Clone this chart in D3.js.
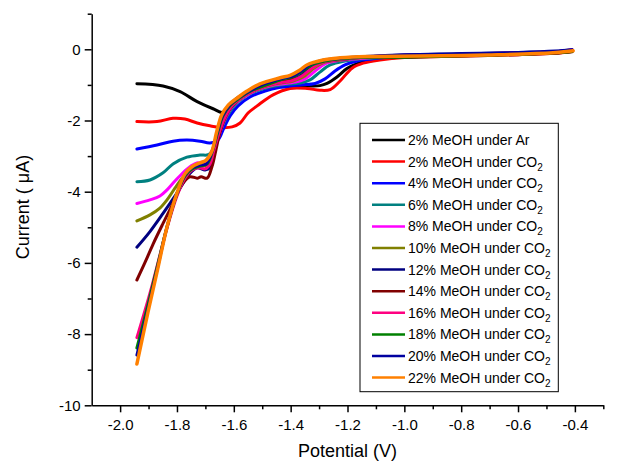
<!DOCTYPE html>
<html>
<head>
<meta charset="utf-8">
<script src="https://cdn.jsdelivr.net/npm/d3@7"></script>
<style>
  body { margin: 0; background: #fff; }
  text { font-family: "Liberation Sans", Arial, sans-serif; fill: #000; }
</style>
</head>
<body>
<div class="chart"></div>
<script>
// Series: [potential (V), current (uA)]
const ar2 = [[-1.941,-0.97],[-1.849,-1.03],[-1.789,-1.19],[-1.729,-1.47],[-1.673,-1.67],[-1.638,-1.77],[-1.613,-1.54],[-1.578,-1.31],[-1.525,-1.14],[-1.473,-1.07],[-1.402,-1.04],[-1.332,-1.03],[-1.297,-1.02],[-1.272,-0.96],[-1.237,-0.78],[-1.202,-0.54],[-1.166,-0.40],[-1.121,-0.30],[-1.0,-0.22],[-0.8,-0.18],[-0.6,-0.14],[-0.47,-0.10],[-0.41,-0.05]];
const co2_2 = [[-1.941,-2.03],[-1.870,-2.03],[-1.814,-1.94],[-1.772,-1.96],[-1.729,-2.07],[-1.684,-2.15],[-1.642,-2.20],[-1.606,-2.18],[-1.578,-2.07],[-1.550,-1.79],[-1.518,-1.59],[-1.462,-1.28],[-1.402,-1.10],[-1.342,-1.10],[-1.297,-1.15],[-1.261,-1.13],[-1.226,-0.89],[-1.184,-0.53],[-1.145,-0.39],[-1.086,-0.30],[-1.0,-0.23],[-0.8,-0.19],[-0.6,-0.15],[-0.47,-0.11],[-0.41,-0.06]];
const co2_4 = [[-1.941,-2.80],[-1.870,-2.69],[-1.814,-2.58],[-1.765,-2.55],[-1.719,-2.58],[-1.684,-2.63],[-1.656,-2.55],[-1.635,-2.21],[-1.613,-1.87],[-1.585,-1.59],[-1.543,-1.34],[-1.490,-1.17],[-1.437,-1.07],[-1.367,-1.00],[-1.314,-0.96],[-1.279,-0.83],[-1.244,-0.61],[-1.209,-0.44],[-1.166,-0.33],[-1.114,-0.27],[-1.0,-0.18],[-0.8,-0.15],[-0.6,-0.11],[-0.47,-0.08],[-0.41,-0.03]];
const co2_6 = [[-1.941,-3.72],[-1.895,-3.67],[-1.849,-3.47],[-1.814,-3.22],[-1.765,-3.03],[-1.719,-2.97],[-1.690,-2.96],[-1.670,-2.77],[-1.649,-2.32],[-1.627,-1.93],[-1.599,-1.59],[-1.557,-1.31],[-1.501,-1.12],[-1.437,-1.00],[-1.367,-0.95],[-1.332,-0.86],[-1.297,-0.64],[-1.261,-0.44],[-1.209,-0.33],[-1.138,-0.26],[-1.0,-0.21],[-0.8,-0.17],[-0.6,-0.13],[-0.47,-0.09],[-0.41,-0.04]];
const co2_8 = [[-1.941,-4.33],[-1.895,-4.23],[-1.860,-4.12],[-1.835,-3.95],[-1.807,-3.70],[-1.779,-3.47],[-1.751,-3.28],[-1.730,-3.19],[-1.708,-3.22],[-1.687,-3.19],[-1.670,-2.89],[-1.652,-2.43],[-1.634,-2.01],[-1.610,-1.65],[-1.571,-1.37],[-1.518,-1.14],[-1.455,-1.00],[-1.384,-0.92],[-1.349,-0.83],[-1.314,-0.61],[-1.279,-0.41],[-1.226,-0.31],[-1.156,-0.26],[-1.0,-0.18],[-0.8,-0.15],[-0.6,-0.11],[-0.47,-0.07],[-0.41,-0.02]];
const co2_10 = [[-1.941,-4.82],[-1.895,-4.65],[-1.860,-4.46],[-1.835,-4.23],[-1.807,-3.90],[-1.782,-3.62],[-1.754,-3.39],[-1.733,-3.28],[-1.708,-3.28],[-1.687,-3.22],[-1.673,-2.91],[-1.656,-2.44],[-1.638,-2.01],[-1.613,-1.65],[-1.574,-1.37],[-1.522,-1.14],[-1.462,-0.99],[-1.391,-0.89],[-1.356,-0.78],[-1.321,-0.55],[-1.286,-0.38],[-1.226,-0.30],[-1.156,-0.24],[-1.0,-0.21],[-0.8,-0.17],[-0.6,-0.13],[-0.47,-0.09],[-0.41,-0.05]];
const co2_12 = [[-1.941,-5.56],[-1.895,-5.12],[-1.849,-4.61],[-1.800,-4.04],[-1.754,-3.48],[-1.729,-3.33],[-1.701,-3.39],[-1.684,-3.33],[-1.670,-2.97],[-1.656,-2.49],[-1.638,-2.04],[-1.613,-1.65],[-1.578,-1.37],[-1.525,-1.13],[-1.466,-0.97],[-1.402,-0.88],[-1.367,-0.75],[-1.332,-0.53],[-1.297,-0.37],[-1.226,-0.29],[-1.156,-0.23],[-1.0,-0.16],[-0.8,-0.13],[-0.6,-0.09],[-0.47,-0.06],[-0.41,-0.01]];
const co2_14 = [[-1.941,-6.48],[-1.912,-5.98],[-1.884,-5.47],[-1.849,-4.89],[-1.814,-4.33],[-1.779,-3.76],[-1.754,-3.58],[-1.729,-3.62],[-1.715,-3.58],[-1.694,-3.62],[-1.677,-3.30],[-1.663,-2.83],[-1.649,-2.35],[-1.631,-1.93],[-1.606,-1.59],[-1.571,-1.34],[-1.518,-1.12],[-1.455,-0.95],[-1.402,-0.85],[-1.374,-0.67],[-1.342,-0.47],[-1.304,-0.36],[-1.226,-0.27],[-1.156,-0.22],[-1.0,-0.22],[-0.8,-0.19],[-0.6,-0.15],[-0.47,-0.11],[-0.41,-0.07]];
const co2_16 = [[-1.941,-8.10],[-1.895,-6.85],[-1.860,-5.78],[-1.835,-5.02],[-1.800,-4.12],[-1.772,-3.62],[-1.747,-3.39],[-1.722,-3.33],[-1.701,-3.36],[-1.684,-3.22],[-1.670,-2.83],[-1.652,-2.35],[-1.634,-1.96],[-1.610,-1.62],[-1.574,-1.37],[-1.522,-1.14],[-1.459,-0.97],[-1.395,-0.88],[-1.360,-0.75],[-1.325,-0.53],[-1.290,-0.37],[-1.226,-0.29],[-1.156,-0.23],[-1.0,-0.17],[-0.8,-0.14],[-0.6,-0.10],[-0.47,-0.07],[-0.41,-0.02]];
const co2_18 = [[-1.941,-8.39],[-1.902,-7.18],[-1.867,-6.03],[-1.835,-4.99],[-1.800,-4.06],[-1.772,-3.56],[-1.747,-3.36],[-1.719,-3.28],[-1.694,-3.22],[-1.674,-2.83],[-1.656,-2.32],[-1.638,-1.87],[-1.612,-1.57],[-1.580,-1.37],[-1.540,-1.17],[-1.485,-1.00],[-1.430,-0.84],[-1.391,-0.77],[-1.360,-0.62],[-1.328,-0.45],[-1.279,-0.33],[-1.209,-0.26],[-1.138,-0.22],[-1.0,-0.22],[-0.8,-0.18],[-0.6,-0.14],[-0.47,-0.10],[-0.41,-0.06]];
const co2_20 = [[-1.941,-8.59],[-1.902,-7.29],[-1.867,-6.09],[-1.835,-4.99],[-1.800,-4.06],[-1.772,-3.53],[-1.747,-3.33],[-1.719,-3.25],[-1.698,-3.22],[-1.676,-2.86],[-1.658,-2.32],[-1.640,-1.87],[-1.615,-1.57],[-1.585,-1.37],[-1.545,-1.17],[-1.495,-0.98],[-1.432,-0.82],[-1.393,-0.75],[-1.362,-0.61],[-1.334,-0.44],[-1.286,-0.31],[-1.209,-0.24],[-1.138,-0.20],[-1.0,-0.15],[-0.8,-0.12],[-0.6,-0.09],[-0.47,-0.05],[-0.41,-0.01]];
const co2_22 = [[-1.941,-8.84],[-1.902,-7.38],[-1.867,-6.14],[-1.835,-4.99],[-1.800,-4.04],[-1.772,-3.50],[-1.747,-3.30],[-1.719,-3.19],[-1.698,-3.12],[-1.678,-2.88],[-1.660,-2.31],[-1.643,-1.85],[-1.619,-1.56],[-1.590,-1.38],[-1.555,-1.18],[-1.508,-0.97],[-1.437,-0.80],[-1.402,-0.73],[-1.367,-0.58],[-1.343,-0.44],[-1.286,-0.30],[-1.226,-0.24],[-1.132,-0.20],[-0.945,-0.19],[-0.709,-0.16],[-0.477,-0.10],[-0.406,-0.04]];

const series = [ar2, co2_2, co2_4, co2_6, co2_8, co2_10, co2_12, co2_14, co2_16, co2_18, co2_20, co2_22];
const labels = ['2% MeOH under Ar', '2% MeOH under CO2', '4% MeOH under CO2', '6% MeOH under CO2',
  '8% MeOH under CO2', '10% MeOH under CO2', '12% MeOH under CO2', '14% MeOH under CO2',
  '16% MeOH under CO2', '18% MeOH under CO2', '20% MeOH under CO2', '22% MeOH under CO2'];
const colors = ['#000000', '#ff0000', '#0000ff', '#008080', '#ff00ff', '#808000',
  '#000080', '#800000', '#ff0080', '#008000', '#0000a0', '#ff8000'];

const xTicks = [-2.0, -1.8, -1.6, -1.4, -1.2, -1.0, -0.8, -0.6, -0.4];
const xMinor = [-1.9, -1.7, -1.5, -1.3, -1.1, -0.9, -0.7, -0.5, -0.3];
const yTicks = [-10, -8, -6, -4, -2, 0];
const yMinor = [-9, -7, -5, -3, -1, 1];

const width = 619, height = 464;
const svg = d3.select('.chart').append('svg')
    .attr('width', width)
    .attr('height', height);

const x = d3.scaleLinear().domain([-2.1, -0.3]).range([91.7, 603.3]);
const y = d3.scaleLinear().domain([-10, 1]).range([405.3, 13.7]);

// Curves (last one drawn on top, like the original)
const line = d3.line()
    .x(d => x(d[0]))
    .y(d => y(d[1]))
    .curve(d3.curveCatmullRom.alpha(0.5));

svg.append('g').selectAll('path')
    .data(series)
    .join('path')
    .attr('d', line)
    .attr('fill', 'none')
    .attr('stroke', (d, i) => colors[i])
    .attr('stroke-width', (d, i) => i === series.length - 1 ? 3.5 : 3)
    .attr('stroke-linejoin', 'round')
    .attr('stroke-linecap', 'round');

// Axes
svg.append('g').attr('transform', `translate(0,${y(-10)})`)
    .call(d3.axisBottom(x).tickValues(xTicks).tickFormat(d => d.toFixed(1))
        .tickSize(7).tickSizeOuter(0).tickPadding(7));
svg.append('g').attr('transform', `translate(0,${y(-10)})`)
    .call(d3.axisBottom(x).tickValues(xMinor).tickFormat('').tickSize(4))
    .call(g => g.select('.domain').remove());

svg.append('g').attr('transform', `translate(${x(-2.1)},0)`)
    .call(d3.axisLeft(y).tickValues(yTicks).tickFormat(d => String(d))
        .tickSize(7).tickSizeOuter(0).tickPadding(4));
svg.append('g').attr('transform', `translate(${x(-2.1)},0)`)
    .call(d3.axisLeft(y).tickValues(yMinor).tickFormat('').tickSize(4))
    .call(g => g.select('.domain').remove());

svg.selectAll('.domain, .tick line').attr('stroke', '#000').attr('stroke-width', 1.5);
svg.selectAll('.tick text').style('font-size', '15px')
    .style('font-family', '"Liberation Sans", Arial, sans-serif').attr('fill', '#000');

// Axis titles
svg.append('text')
    .attr('x', (x(-2.1) + x(-0.3)) / 2).attr('y', 457)
    .attr('text-anchor', 'middle').style('font-size', '18px')
    .text('Potential (V)');
svg.append('text')
    .attr('transform', 'translate(29,207) rotate(-90)')
    .attr('text-anchor', 'middle').style('font-size', '18px')
    .text('Current ( μA)');

// Legend
const legend = svg.append('g');
legend.append('rect')
    .attr('x', 360).attr('y', 123.3).attr('width', 198.3).attr('height', 268.4)
    .attr('fill', '#fff').attr('stroke', '#000').attr('stroke-width', 1);

labels.forEach((label, i) => {
    const cy = 140 + i * 21.6;
    legend.append('line')
        .attr('x1', 372).attr('x2', 405).attr('y1', cy).attr('y2', cy)
        .attr('stroke', colors[i]).attr('stroke-width', 2.5);
    const t = legend.append('text')
        .attr('x', 408).attr('y', cy + 5).style('font-size', '14px');
    if (label.endsWith('CO2')) {
        t.append('tspan').text(label.slice(0, -1));
        t.append('tspan').attr('dy', 4).style('font-size', '10px').text('2');
    } else {
        t.text(label);
    }
});
</script>
</body>
</html>
